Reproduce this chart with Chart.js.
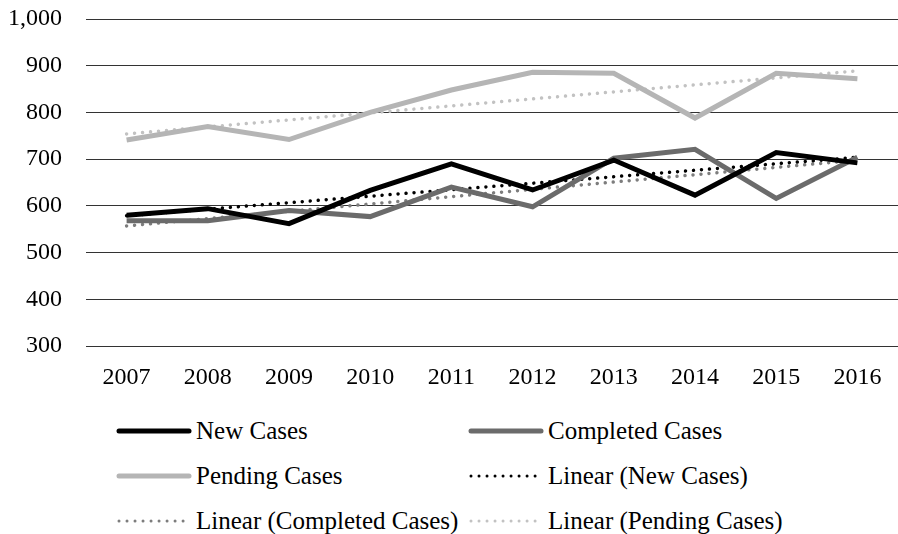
<!DOCTYPE html>
<html>
<head>
<meta charset="utf-8">
<script src="https://cdn.jsdelivr.net/npm/chart.js@4/dist/chart.umd.min.js"></script>
<style>
  html, body { margin: 0; padding: 0; background: #fff; }
  #wrap { position: relative; width: 898px; height: 534px; overflow: hidden; }
  #chart { position: absolute; left: 0; top: 0; }
  .leg { position: absolute; height: 30px; display: flex; align-items: center;
         font-family: 'Liberation Serif', 'Times New Roman', serif; font-size: 25px; color: #000; white-space: nowrap; }
  .leg svg { margin-right: 4px; }
</style>
</head>
<body>
<div id="wrap">
  <canvas id="chart" width="898" height="400"></canvas>
  <div id="legend"></div>
</div>
<script>
const years = ['2007', '2008', '2009', '2010', '2011', '2012', '2013', '2014', '2015', '2016'];
const newCases = [580, 594, 562, 633, 690, 634, 698, 623, 714, 692];
const completedCases = [568, 568, 590, 577, 640, 598, 702, 721, 616, 704];
const pendingCases = [741, 770, 742, 800, 848, 886, 884, 788, 884, 872];
// trend lines: only the end points, the line is drawn straight between them
const trendNew = [579, null, null, null, null, null, null, null, null, 704];
const trendCompleted = [557, null, null, null, null, null, null, null, null, 698];
const trendPending = [754, null, null, null, null, null, null, null, null, 889];
const yTicks = [300, 400, 500, 600, 700, 800, 900, 1000];

const solid = (label, data, color) => ({
  label, data, borderColor: color, backgroundColor: color,
  borderWidth: 5, pointRadius: 0, tension: 0, borderJoinStyle: 'miter', fill: false
});
const dotted = (label, data, color) => ({
  label, data, borderColor: color, backgroundColor: color,
  borderWidth: 3.5, borderDash: [0.01, 8], borderCapStyle: 'round',
  pointRadius: 0, tension: 0, spanGaps: true, fill: false
});

const datasets = [
  solid('New Cases', newCases, '#000000'),
  solid('Completed Cases', completedCases, '#6b6b6b'),
  solid('Pending Cases', pendingCases, '#b5b5b5'),
  dotted('Linear (New Cases)', trendNew, '#000000'),
  dotted('Linear (Completed Cases)', trendCompleted, '#7d7d7d'),
  dotted('Linear (Pending Cases)', trendPending, '#c2c2c2')
];

const serif = "'Liberation Serif', 'Times New Roman', serif";

new Chart(document.getElementById('chart'), {
  type: 'line',
  data: { labels: years, datasets },
  options: {
    responsive: false,
    animation: false,
    layout: { padding: { top: 19, right: 0, left: 0, bottom: 0 } },
    plugins: { legend: { display: false }, tooltip: { enabled: false } },
    scales: {
      x: {
        offset: true,
        grid: { display: false, drawTicks: false },
        border: { display: false },
        ticks: { color: '#000', font: { family: serif, size: 24 }, padding: 17, maxRotation: 0 },
        afterFit: s => { s.height = 54; s.paddingLeft = 0; s.paddingRight = 0; }
      },
      y: {
        min: 300, max: 1000,
        afterBuildTicks: s => { s.ticks = yTicks.map(v => ({ value: v })); },
        grid: { color: 'rgba(0,0,0,0.8)', lineWidth: 1, drawTicks: false },
        border: { display: false },
        ticks: {
          color: '#000', font: { family: serif, size: 24 }, padding: 24,
          callback: v => v.toLocaleString('en-US')
        },
        afterFit: s => { s.width = 86; s.paddingTop = 0; s.paddingBottom = 0; }
      }
    }
  }
});

// two-column legend under the chart
const legendPos = [
  [116, 431], [468, 431],
  [116, 476], [468, 476],
  [116, 521], [468, 521]
];
const legend = document.getElementById('legend');
datasets.forEach((ds, i) => {
  const [x, y] = legendPos[i];
  const div = document.createElement('div');
  div.className = 'leg';
  div.style.left = x + 'px';
  div.style.top = (y - 15) + 'px';
  const dash = ds.borderDash ? 'stroke-dasharray="0.01 8"' : '';
  const w = ds.borderDash ? 3 : 5;
  div.innerHTML = '<svg width="76" height="10"><line x1="3" y1="5" x2="73" y2="5" stroke="' + ds.borderColor +
    '" stroke-width="' + w + '" stroke-linecap="round" ' + dash + '/></svg><span>' + ds.label + '</span>';
  legend.appendChild(div);
});
</script>
</body>
</html>
